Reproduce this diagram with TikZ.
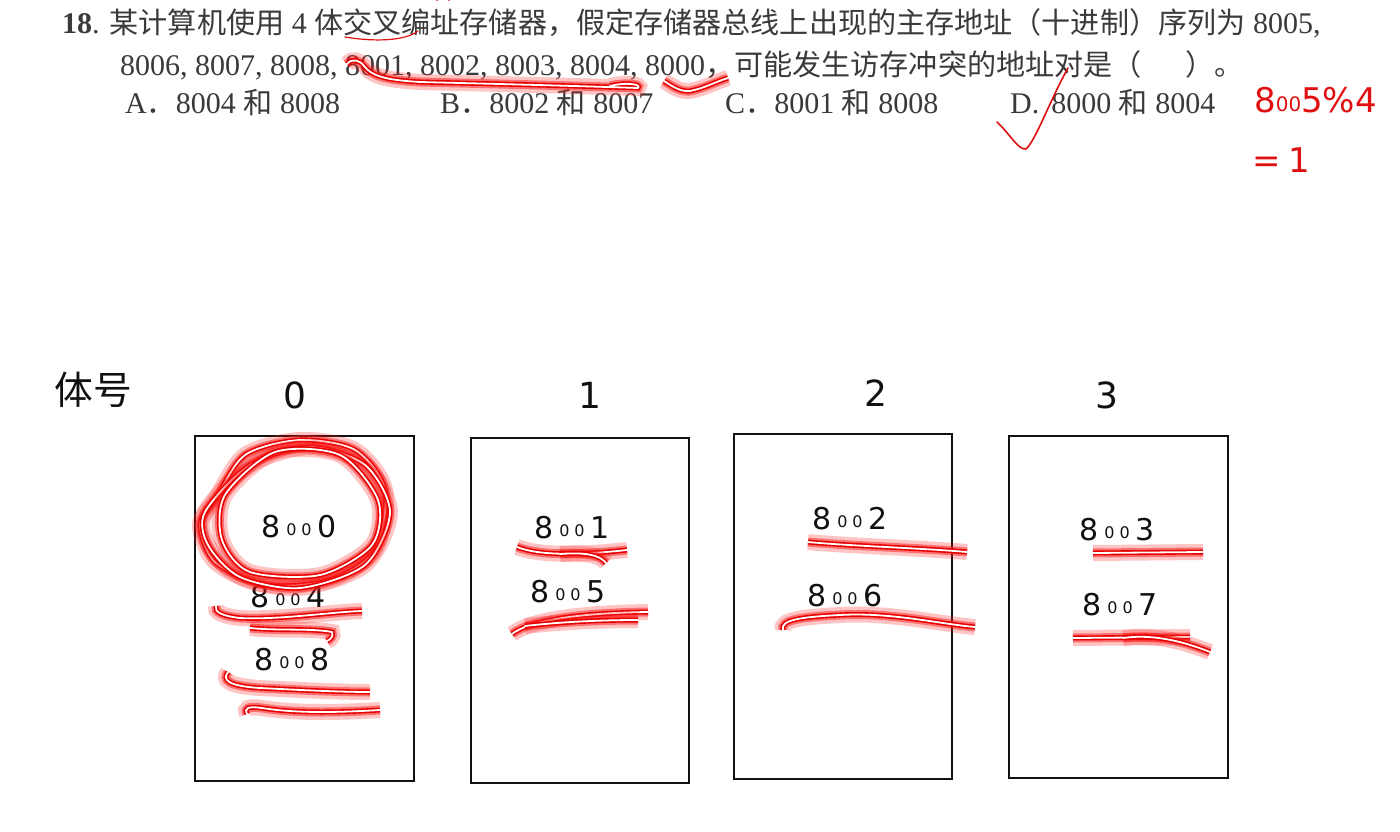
\documentclass[tikz,border=0pt]{standalone}
\usepackage{fontspec}
\setmainfont{Liberation Serif}
\newfontfamily\cjk[Scale=0.97]{Noto Sans CJK SC}
\newfontfamily\hand{DejaVu Sans}
\usetikzlibrary{positioning}
\definecolor{ink}{HTML}{3A3A3A}
\definecolor{pen}{HTML}{111111}
\definecolor{redpen}{HTML}{E01010}
\definecolor{glowred}{HTML}{FF1A1A}
\newcommand{\hwaddr}[1]{8\hspace{6pt}\raisebox{2pt}{\fontsize{16}{16}\selectfont 0\hspace{5pt}0}\hspace{6pt}#1}
\tikzset{
  q/.style={text=ink, font=\fontsize{30}{34}\selectfont, inner sep=0pt, anchor=base west},
  bank/.style={draw=pen, line width=1.6pt, inner sep=0pt},
  banknum/.style={text=pen, font=\hand\fontsize{36}{40}\selectfont, inner sep=0pt},
  addr/.style={text=pen, font=\hand\fontsize{30}{32}\selectfont, inner sep=0pt},
  note/.style={text=redpen, font=\hand\fontsize{34}{38}\selectfont, inner sep=0pt},
  inkred/.style={draw=redpen, line width=1.6pt, line cap=round, line join=round},
  glow/.style={draw=white, line width=1.8pt, line cap=round, line join=round,
    preaction={draw=glowred, opacity=0.25, line width=16pt},
    preaction={draw=glowred, opacity=0.5, line width=9pt},
    preaction={draw=red!90!black, line width=5pt}},
}
\begin{document}
\begin{tikzpicture}[x=1pt,y=-1pt]
  \useasboundingbox[fill=white] (0,0) rectangle (1400,832);

  % question
  \node[q] (line1) at (62,34) {\textbf{18}. {\cjk 某计算机使用} 4 {\cjk 体交叉编址存储器，假定存储器总线上出现的主存地址（十进制）序列为} 8005,};
  \node[q] (line2) at (120,76) {8006, 8007, 8008, 8001, 8002, 8003, 8004, 8000{\cjk ，可能发生访存冲突的地址对是（\hspace{1.5em}）。}};
  \node[q] (optA) at (125,114) {A{\cjk ．}8004 {\cjk 和} 8008};
  \node[q] (optB) at (440,114) {B{\cjk ．}8002 {\cjk 和} 8007};
  \node[q] (optC) at (725,114) {C{\cjk ．}8001 {\cjk 和} 8008};
  \node[q] (optD) at (1010,114) {D.\hspace{12pt}8000 {\cjk 和} 8004};

  % marks on the question
  \draw[inkred, line width=1.2pt] (345,37) .. controls (375,42) and (405,41) .. (418,31);
  \draw[inkred, line width=2pt] (437,0) arc (180:360:6);
  \draw[glow] (347,64) .. controls (352,58) and (360,60) .. (364,66)
    .. controls (372,76) and (385,80) .. (420,82)
    .. controls (500,84) and (580,86) .. (638,88)
    .. controls (642,84) and (625,82) .. (610,86);
  \draw[glow] (664,81) .. controls (672,86) and (680,92) .. (690,91)
    .. controls (705,88) and (715,82) .. (728,78);
  \draw[inkred] (997,122) .. controls (1010,134) and (1018,150) .. (1026,149)
    .. controls (1036,140) and (1050,100) .. (1068,68);
  \node[note, anchor=west] (mod) at (1254,100) {8\raisebox{1pt}{\fontsize{20}{22}\selectfont 00}5\%4};
  \node[note, anchor=west] (res) at (1252,160) {=\hspace{8pt}1};

  % banks
  \node[addr, font=\cjk\fontsize{40}{44}\selectfont] (bankhead) at (93,390) {体号};
  \node[bank, minimum width=219pt, minimum height=345pt] (bank0) at (304.5,608.5) {};
  \node[bank, minimum width=218pt, minimum height=345pt] (bank1) at (580,610.5) {};
  \node[bank, minimum width=218pt, minimum height=345pt] (bank2) at (843,606.5) {};
  \node[bank, minimum width=219pt, minimum height=342pt] (bank3) at (1118.5,607) {};
  \node[banknum] (num0) at (295,395) {0};
  \node[banknum] (num1) at (590,395) {1};
  \node[banknum] (num2) at (876,393) {2};
  \node[banknum] (num3) at (1107,395) {3};

  \node[addr] (a8000) at (299,527) {\hwaddr{0}};
  \node[addr] (a8004) at (288,597) {\hwaddr{4}};
  \node[addr] (a8008) at (292,660) {\hwaddr{8}};
  \node[addr] (a8001) at (572,528) {\hwaddr{1}};
  \node[addr] (a8005) at (568,592) {\hwaddr{5}};
  \node[addr] (a8002) at (850,519) {\hwaddr{2}};
  \node[addr] (a8006) at (845,596) {\hwaddr{6}};
  \node[addr] (a8003) at (1117,530) {\hwaddr{3}};
  \node[addr] (a8007) at (1120,605) {\hwaddr{7}};

  % circle round 8000
  \draw[glow] plot[smooth cycle] coordinates {(215,500) (245,455) (300,440) (355,450) (385,490) (375,550) (330,580) (265,585) (215,562) (200,525)};
  \draw[glow] plot[smooth cycle] coordinates {(205,512) (250,465) (310,447) (365,465) (390,512) (365,565) (300,588) (240,577) (208,545)};
  \draw[glow] plot[smooth cycle] coordinates {(225,495) (275,452) (340,455) (378,500) (372,545) (320,575) (250,572) (222,540)};

  % underlines
  \draw[glow] (216,606) .. controls (214,612) and (222,616) .. (240,618)
    .. controls (280,620) and (330,612) .. (362,611);
  \draw[glow] (250,628) .. controls (280,631) and (310,628) .. (332,632) .. controls (334,636) and (330,640) .. (327,641);
  \draw[glow] (228,672) .. controls (222,680) and (228,686) .. (260,688)
    .. controls (300,690) and (340,692) .. (370,692);
  \draw[glow] (247,714) .. controls (244,708) and (248,706) .. (262,708)
    .. controls (300,714) and (345,712) .. (380,710);
  \draw[glow] (517,547) .. controls (540,556) and (580,555) .. (627,550);
  \draw[glow] (560,554) .. controls (585,552) and (600,555) .. (606,563);
  \draw[glow] (512,634) .. controls (530,620) and (580,613) .. (648,612);
  \draw[glow] (525,626) .. controls (560,622) and (600,620) .. (638,620);
  \draw[glow] (808,542) .. controls (850,546) and (920,548) .. (967,552);
  \draw[glow] (783,630) .. controls (780,620) and (800,617) .. (840,615)
    .. controls (890,612) and (940,624) .. (975,627);
  \draw[glow] (1093,553) -- (1203,552);
  \draw[glow] (1073,638) -- (1190,637);
  \draw[glow] (1123,638) .. controls (1150,634) and (1180,640) .. (1210,652);
\end{tikzpicture}
\end{document}
